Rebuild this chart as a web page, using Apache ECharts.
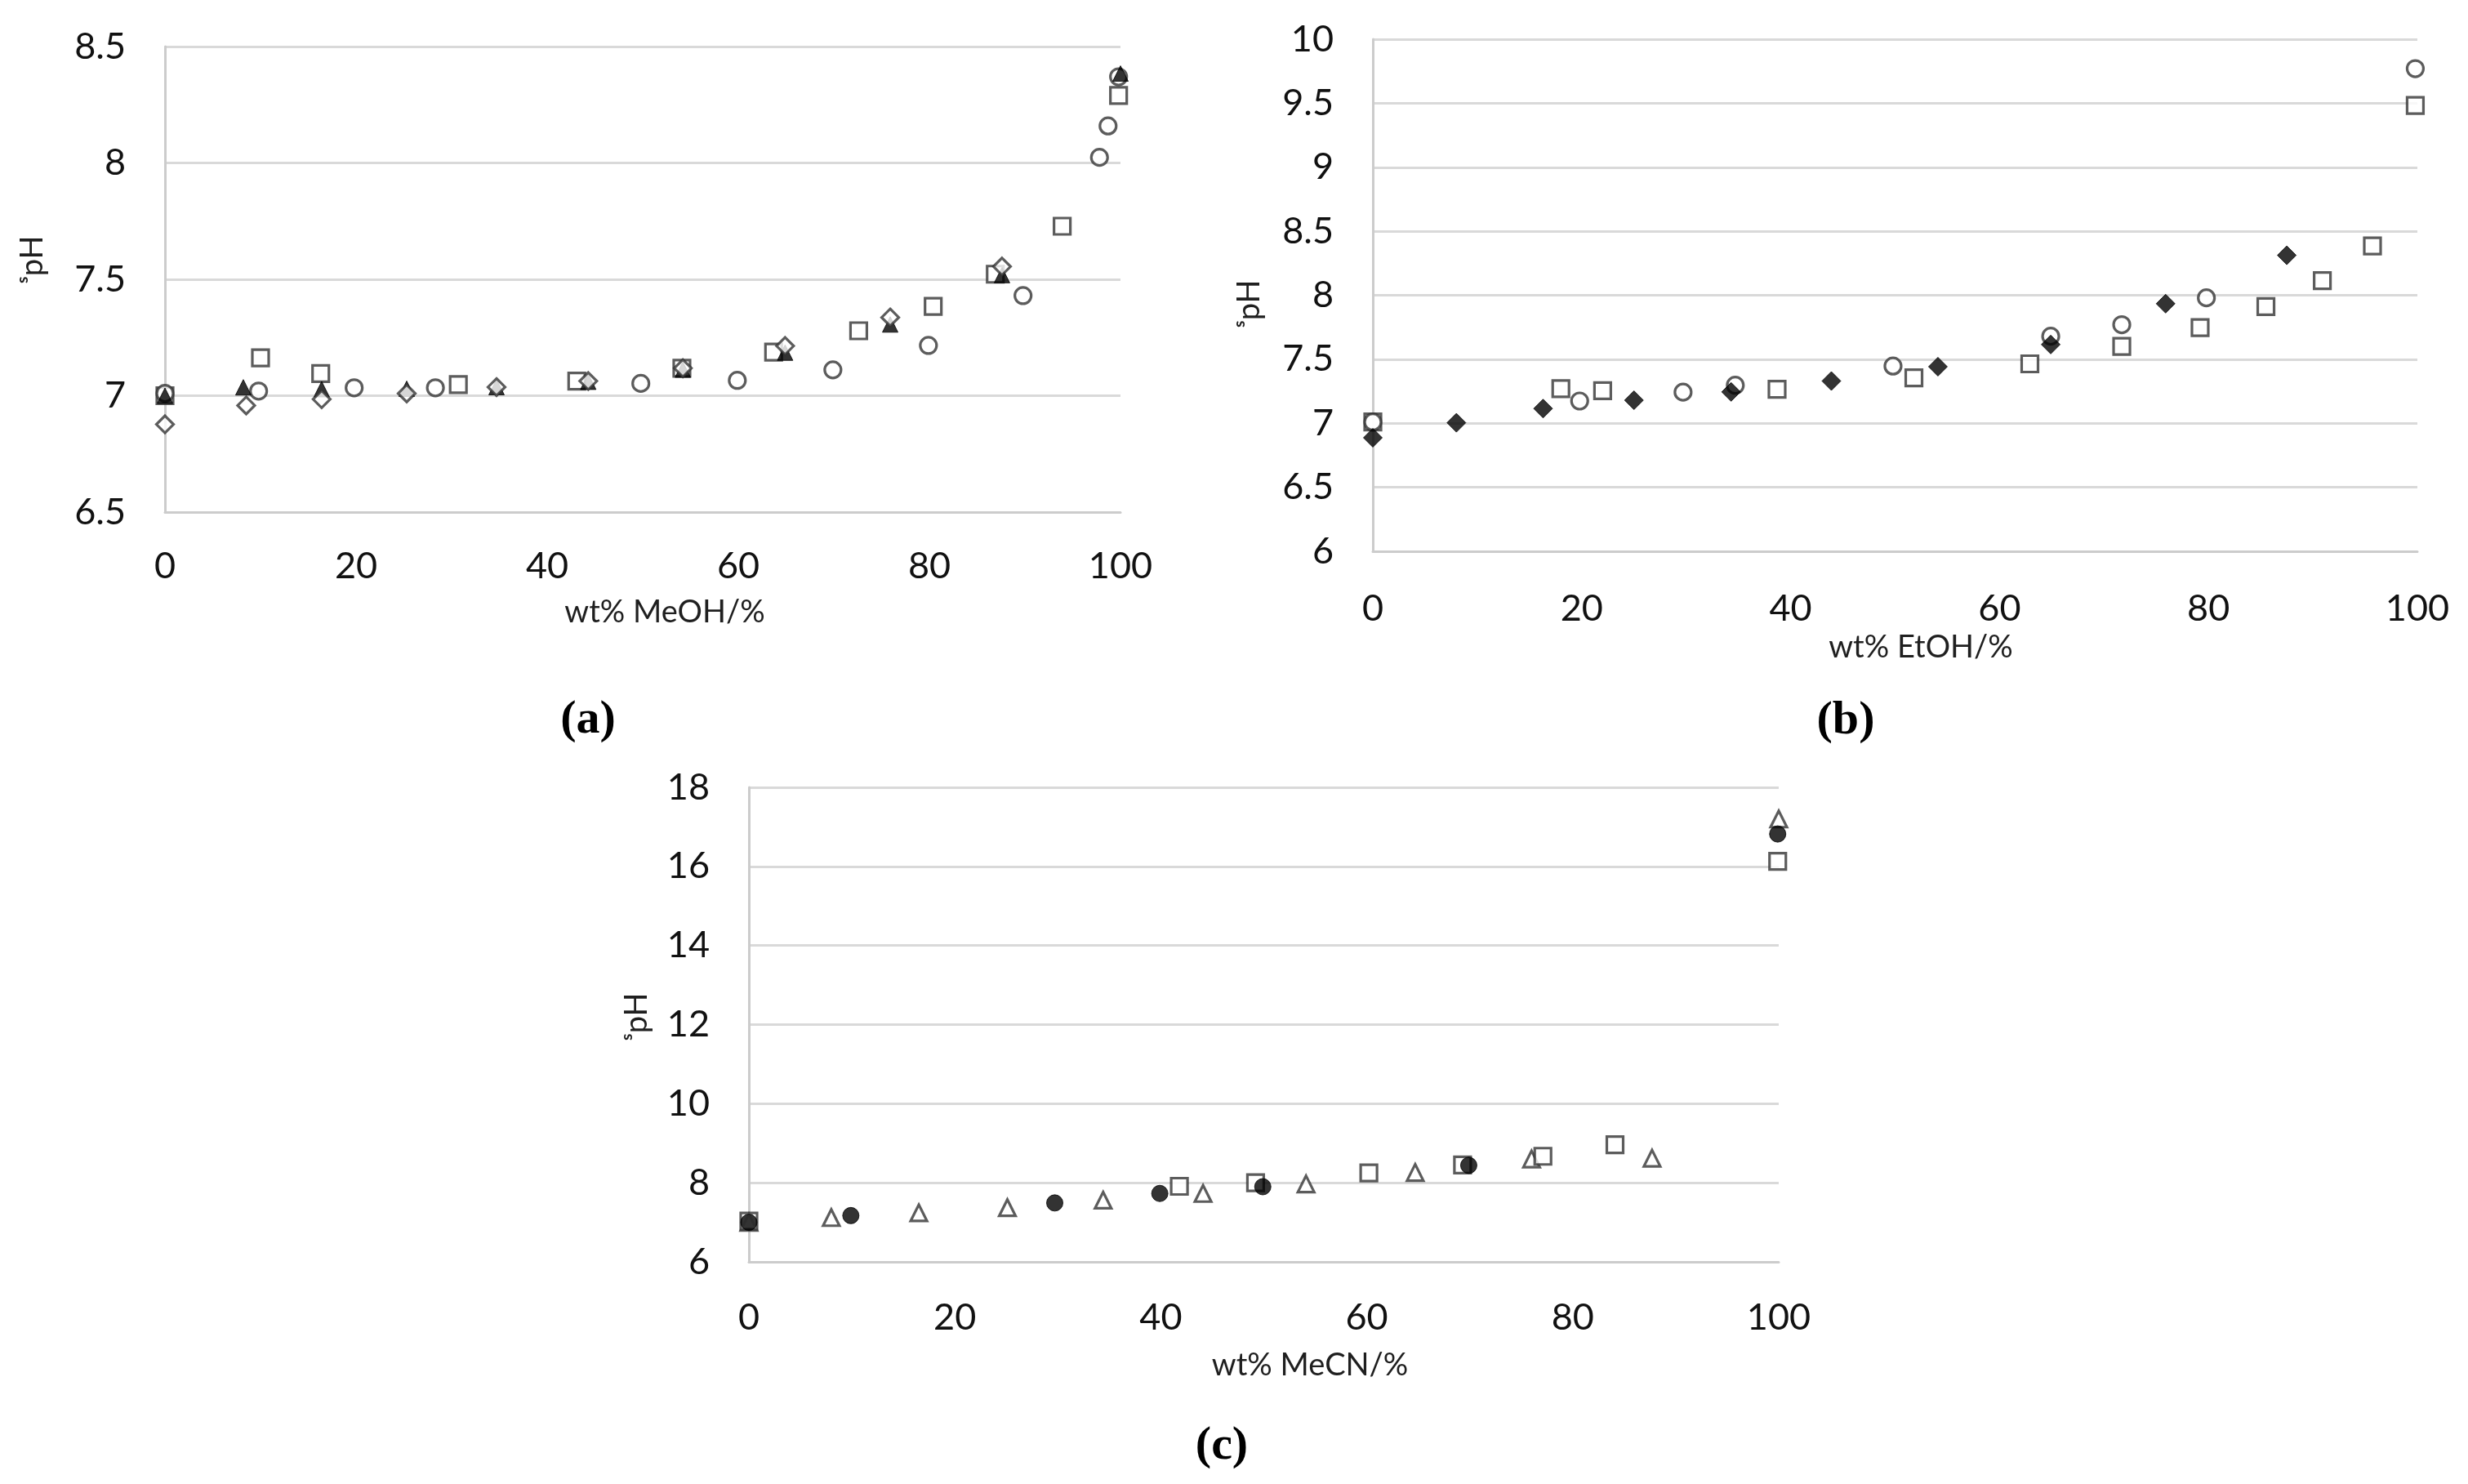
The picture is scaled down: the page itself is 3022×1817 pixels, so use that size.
<!DOCTYPE html>
<html>
<head>
<meta charset="utf-8">
<script src="https://cdn.jsdelivr.net/npm/echarts@6/dist/echarts.min.js"></script>
<style>
html,body{margin:0;padding:0;background:#fff;}
#c{width:3022px;height:1817px;}
</style>
</head>
<body>
<div id="c"></div>
<script>
// ---- Panel (a): MeOH ----
const aSqX  = [0, 10.0, 16.3, 30.7, 43.1, 54.1, 63.7, 72.6, 80.4, 86.9, 93.9, 99.8];
const aSqY  = [7.00, 7.163, 7.095, 7.048, 7.063, 7.118, 7.187, 7.279, 7.384, 7.522, 7.728, 8.29];
const aCirX = [0, 9.8, 19.8, 28.3, 49.8, 59.9, 69.9, 79.9, 89.8, 97.8, 98.7, 99.8];
const aCirY = [7.01, 7.02, 7.034, 7.034, 7.053, 7.066, 7.111, 7.216, 7.43, 8.024, 8.159, 8.37];
const aTriX = [0, 8.2, 16.4, 25.3, 34.7, 44.3, 54.2, 64.9, 75.9, 87.6, 100];
const aTriY = [7.0, 7.036, 7.028, 7.03, 7.037, 7.06, 7.112, 7.185, 7.306, 7.518, 8.384];
const aDiaX = [0, 8.5, 16.4, 25.3, 34.7, 44.3, 54.2, 64.9, 75.9, 87.6];
const aDiaY = [6.877, 6.958, 6.985, 7.01, 7.037, 7.063, 7.118, 7.214, 7.336, 7.555];

// ---- Panel (b): EtOH ----
const bSqX  = [0, 18.0, 22.0, 38.7, 51.8, 62.9, 71.7, 79.2, 85.5, 90.9, 95.7, 99.8];
const bSqY  = [7.01, 7.27, 7.255, 7.265, 7.355, 7.464, 7.6, 7.747, 7.912, 8.114, 8.385, 9.483];
const bCirX = [0, 19.8, 29.7, 34.7, 49.8, 64.9, 71.7, 79.8, 99.8];
const bCirY = [7.01, 7.174, 7.243, 7.297, 7.447, 7.68, 7.77, 7.98, 9.77];
const bDiaX = [0, 8.0, 16.3, 25.0, 34.3, 43.9, 54.1, 64.9, 75.9, 87.5];
const bDiaY = [6.887, 7.004, 7.115, 7.18, 7.245, 7.33, 7.442, 7.615, 7.934, 8.312];

// ---- Panel (c): MeCN ----
const cTriX = [0, 8.0, 16.5, 25.1, 34.4, 44.1, 54.1, 64.7, 76.0, 87.7, 100];
const cTriY = [7.0, 7.12, 7.24, 7.37, 7.56, 7.73, 7.97, 8.26, 8.6, 8.62, 17.2];
const cSqX  = [0, 41.8, 49.2, 60.2, 69.3, 77.1, 84.1, 99.9];
const cSqY  = [7.03, 7.91, 8.0, 8.25, 8.45, 8.67, 8.96, 16.13];
const cCirX = [0, 9.9, 29.7, 39.9, 49.9, 69.9, 99.9];
const cCirY = [7.0, 7.17, 7.49, 7.73, 7.9, 8.44, 16.82];

// ---- Axis ranges / labels ----
const xRange = {min: 0, max: 100, interval: 20};
const yA = {min: 6.5, max: 8.5, interval: 0.5};
const yB = {min: 6, max: 10, interval: 0.5};
const yC = {min: 6, max: 18, interval: 2};
const xTitles = ['wt% MeOH/%', 'wt% EtOH/%', 'wt% MeCN/%'];
const yTitle = 'ˢpH';
const panelLabels = ['(a)', '(b)', '(c)'];

const FONT = 'Lato, "Open Sans", "Noto Sans", sans-serif';
const gridColor = '#d9d9d9';
const axisColor = '#cccccc';

function pts(xs, ys) { return xs.map((x, i) => [x, ys[i]]); }

const openStyle = {color: '#ffffff', borderColor: '#333333', borderWidth: 3.2};
const filledStyle = {color: '#000000', borderColor: '#000000', borderWidth: 1};

function sc(name, idx, symbol, data, style, size) {
  return {
    name: name, type: 'scatter', xAxisIndex: idx, yAxisIndex: idx,
    symbol: symbol, symbolSize: size || 20, data: data,
    itemStyle: style, clip: false, silent: true,
    emphasis: {disabled: true}
  };
}

function xAxis(idx, margin) {
  return Object.assign({
    type: 'value', gridIndex: idx,
    axisLine: {show: true, onZero: false, lineStyle: {color: axisColor, width: 3}},
    axisTick: {show: false},
    splitLine: {show: false},
    axisLabel: {color: '#111111', fontSize: 45, fontFamily: FONT, margin: margin}
  }, xRange);
}
function yAxis(idx, r) {
  return Object.assign({
    type: 'value', gridIndex: idx,
    axisLine: {show: true, onZero: false, lineStyle: {color: axisColor, width: 3}},
    axisTick: {show: false},
    splitLine: {show: true, lineStyle: {color: gridColor, width: 3}},
    axisLabel: {color: '#111111', fontSize: 45, fontFamily: FONT, margin: 48}
  }, r);
}

function txt(text, x, y, opts) {
  opts = opts || {};
  return {
    type: 'text', x: x, y: y, rotation: opts.rot || 0, silent: true,
    style: {
      text: text, fill: opts.fill || '#1f1f1f',
      font: opts.font || ('38px ' + FONT),
      textAlign: 'center', textVerticalAlign: 'middle'
    }
  };
}

const LETTER_FONT = 'bold 58px "Liberation Serif", "DejaVu Serif", serif';

const option = {
  animation: false,
  backgroundColor: '#ffffff',
  grid: [
    {left: 202, top: 57, width: 1170, height: 570, containLabel: false},
    {left: 1681, top: 48, width: 1279, height: 627, containLabel: false},
    {left: 917, top: 964, width: 1261, height: 581, containLabel: false}
  ],
  xAxis: [xAxis(0, 44), xAxis(1, 48), xAxis(2, 46)],
  yAxis: [yAxis(0, yA), yAxis(1, yB), yAxis(2, yC)],
  series: [
    sc('a-square', 0, 'rect', pts(aSqX, aSqY), openStyle),
    sc('a-circle', 0, 'circle', pts(aCirX, aCirY), openStyle),
    sc('a-triangle', 0, 'triangle', pts(aTriX, aTriY), filledStyle, 19),
    sc('a-diamond', 0, 'diamond', pts(aDiaX, aDiaY), openStyle, 21),

    sc('b-square', 1, 'rect', pts(bSqX, bSqY), openStyle),
    sc('b-circle', 1, 'circle', pts(bCirX, bCirY), openStyle),
    sc('b-diamond', 1, 'diamond', pts(bDiaX, bDiaY), filledStyle, 23),

    sc('c-triangle', 2, 'triangle', pts(cTriX, cTriY), openStyle, 20),
    sc('c-square', 2, 'rect', pts(cSqX, cSqY), openStyle),
    sc('c-circle', 2, 'circle', pts(cCirX, cCirY), filledStyle, 20)
  ],
  graphic: [
    txt(xTitles[0], 814, 750),
    txt(xTitles[1], 2352, 793),
    txt(xTitles[2], 1604, 1672),
    txt(yTitle, 40, 318, {rot: Math.PI / 2}),
    txt(yTitle, 1530, 372, {rot: Math.PI / 2}),
    txt(yTitle, 780, 1245, {rot: Math.PI / 2}),
    txt(panelLabels[0], 720, 882, {font: LETTER_FONT, fill: '#000'}),
    txt(panelLabels[1], 2260, 883, {font: LETTER_FONT, fill: '#000'}),
    txt(panelLabels[2], 1496, 1771, {font: LETTER_FONT, fill: '#000'})
  ]
};

const chart = echarts.init(document.getElementById('c'), null, {renderer: 'canvas', width: 3022, height: 1817});
chart.setOption(option);
</script>
</body>
</html>
